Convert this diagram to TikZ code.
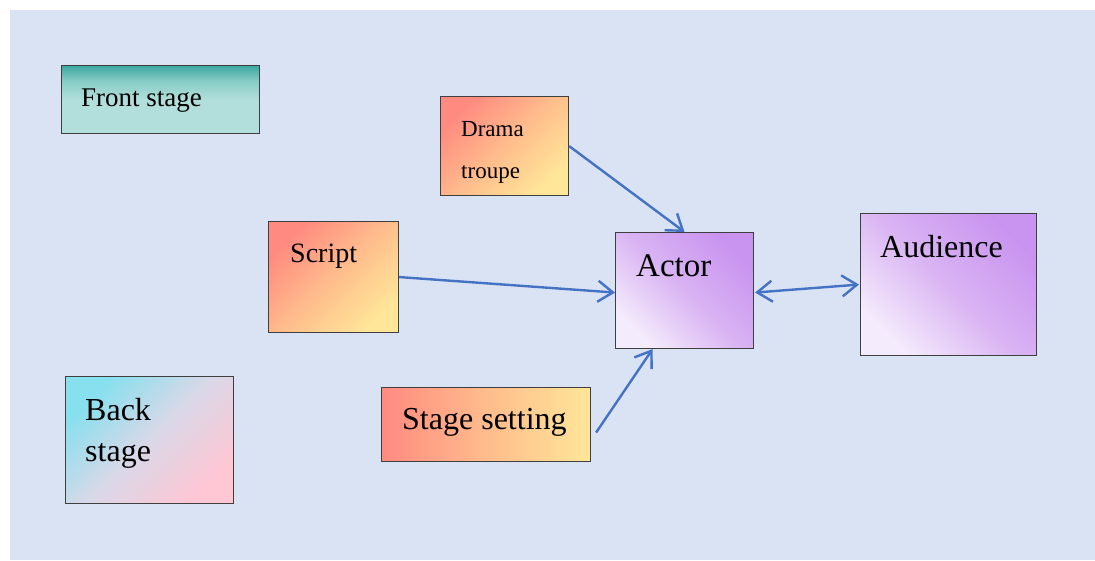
\documentclass[tikz,border=0pt]{standalone}
\usepackage{fontspec}
\setmainfont{Liberation Serif}
\usetikzlibrary{arrows.meta,calc}
\definecolor{bg}{HTML}{DAE3F3}
\definecolor{fsl}{HTML}{B2DFDB}
\definecolor{fsm}{HTML}{86CBC5}
\definecolor{fsd}{HTML}{3AA89F}
\definecolor{orA}{HTML}{FF8A80}
\definecolor{orM}{HTML}{FFBC8C}
\definecolor{orB}{HTML}{FFE699}
\definecolor{puA}{HTML}{C994F0}
\definecolor{puM}{HTML}{D9B3F3}
\definecolor{puB}{HTML}{F4EBFC}
\definecolor{cyA}{HTML}{86E0EE}
\definecolor{bsM}{HTML}{D9D8E8}
\definecolor{pkB}{HTML}{FFC6D4}
\definecolor{arr}{HTML}{4472C4}
\definecolor{edge}{HTML}{3F3F3F}
\pgfdeclareverticalshading{frontsh}{100bp}{color(0bp)=(fsl); color(50bp)=(fsl); color(64bp)=(fsm); color(75bp)=(fsd); color(100bp)=(fsd)}
\tikzset{
  box/.style={draw=edge, line width=1.1pt, inner sep=0pt, anchor=north west},
  orbox/.style={box, top color=orA, bottom color=orB, middle color=orM, shading angle=45},
  pubox/.style={box, top color=puA, bottom color=puB, middle color=puM, shading angle=-45},
  lbl/.style={anchor=base west, inner sep=0pt, text=black},
  conn/.style={draw=arr, line width=2.4pt, -{Straight Barb[length=15pt, width=21pt]}},
}
\begin{document}
\begin{tikzpicture}[x=1pt, y=-1pt]
\useasboundingbox (0,0) rectangle (1095,560);
\fill[bg] (10,10) rectangle (1095,560);
% boxes
\node[box, shading=frontsh, minimum width=198pt, minimum height=68pt] (front) at (61,65) {};
\node[orbox, minimum width=128pt, minimum height=99pt] (drama) at (440,96) {};
\node[orbox, minimum width=130pt, minimum height=111pt] (script) at (268,221) {};
\node[pubox, minimum width=138pt, minimum height=116pt] (actor) at (615,232) {};
\node[pubox, minimum width=176pt, minimum height=142pt] (audience) at (860,213) {};
\node[box, top color=cyA, bottom color=pkB, middle color=bsM, shading angle=45, minimum width=168pt, minimum height=127pt] (back) at (65,376) {};
\node[box, left color=orA, right color=orB, middle color=orM, minimum width=209pt, minimum height=74pt] (stage) at (381,387) {};
% labels
\node[lbl, font=\fontsize{27}{27}\selectfont] (tfront) at (81,106) {Front stage};
\node[lbl, font=\fontsize{23}{23}\selectfont] (tdrama) at (461,136) {Drama};
\node[lbl, font=\fontsize{23}{23}\selectfont] (ttroupe) at (461,178) {troupe};
\node[lbl, font=\fontsize{28}{28}\selectfont] (tscript) at (290,262) {Script};
\node[lbl, font=\fontsize{33}{33}\selectfont] (tactor) at (636,276) {Actor};
\node[lbl, font=\fontsize{32}{32}\selectfont] (taud) at (880,257) {Audience};
\node[lbl, font=\fontsize{32}{32}\selectfont] (tback) at (85,420) {Back};
\node[lbl, font=\fontsize{32}{32}\selectfont] (tbstage) at (85,461) {stage};
\node[lbl, font=\fontsize{32}{32}\selectfont] (tstage) at (402,429) {Stage setting};
% connectors
\coordinate (sstart) at ($(stage.east)+(5,8)$);
\draw[conn] (drama.east) -- (actor.north);
\draw[conn] (script.east) -- ($(actor.west)+(0,2)$);
\draw[conn] (sstart) -- ($(actor.south west)!0.27!(actor.south east)$);
\draw[conn, {Straight Barb[length=15pt, width=21pt]}-{Straight Barb[length=15pt, width=21pt]}] ($(actor.east)+(1,2)$) -- ($(audience.west)+(-1,0)$);
\end{tikzpicture}
\end{document}
